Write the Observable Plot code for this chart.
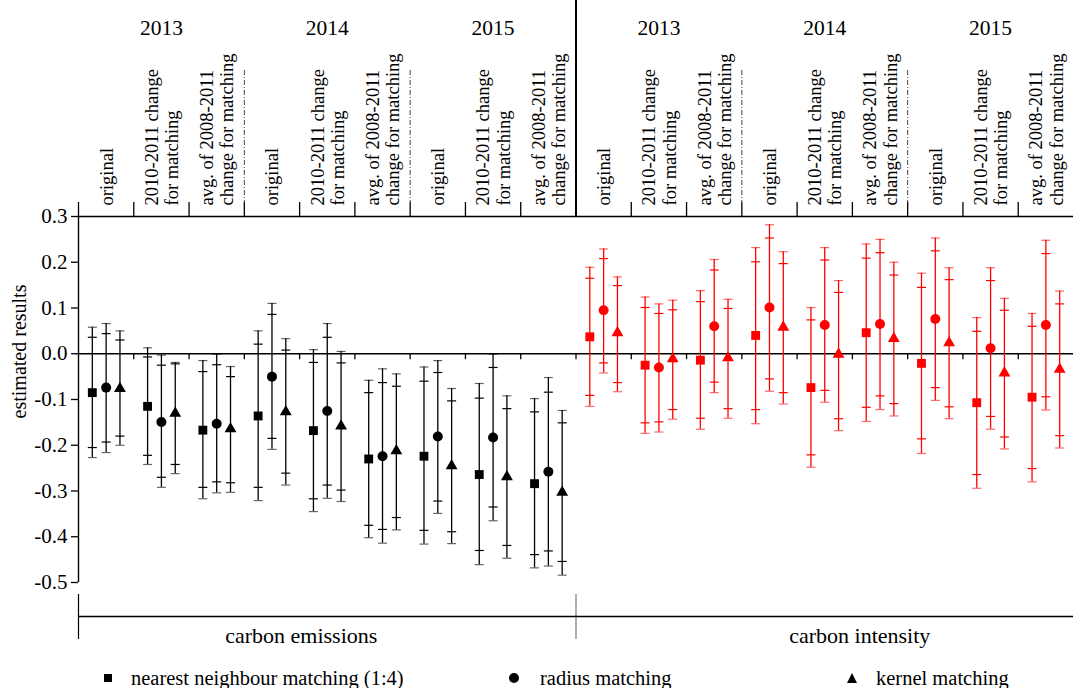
<!DOCTYPE html>
<html>
<head>
<meta charset="utf-8">
<script src="https://cdn.jsdelivr.net/npm/d3@7"></script>
<script src="https://cdn.jsdelivr.net/npm/@observablehq/plot@0.6"></script>
<style>
  html, body { margin: 0; padding: 0; background: #fff; }
  #wrap { position: relative; width: 1073px; height: 688px; overflow: hidden;
          font-family: "Liberation Serif", "Times New Roman", serif; color: #000; }
  #legend { position: absolute; left: 0; top: 665px; width: 1073px; height: 26px; }
  .lt { position: absolute; top: 0; line-height: 26px; font-size: 20.5px; white-space: nowrap;
        font-family: "Liberation Serif", "Times New Roman", serif; }
  .mk { position: absolute; background: #000; }
  .sq { width: 8px; height: 8px; top: 9px; }
  .ci { width: 10px; height: 10px; top: 8px; border-radius: 50%; }
  .tr { width: 0; height: 0; top: 8px; background: none;
        border-left: 5.5px solid transparent; border-right: 5.5px solid transparent; border-bottom: 10px solid #000; }
</style>
</head>
<body>
<div id="wrap">
  <div id="chart"></div>
  <div id="legend"></div>
</div>
<script>
// ---------------- data ----------------
const outcomes = ["carbon emissions", "carbon intensity"];
const years = ["2013", "2014", "2015"];
const specs = ["original", "2010-2011 change\nfor matching", "avg. of 2008-2011\nchange for matching"];
const methods = ["nearest neighbour matching (1:4)", "radius matching", "kernel matching"];
const yTicks = [-0.5, -0.4, -0.3, -0.2, -0.1, 0, 0.1, 0.2, 0.3];

// nearest neighbour matching (1:4)  — 18 groups: emissions 2013..2015 x 3 specs, then intensity
const nnEst  = [-0.085, -0.115, -0.167, -0.136, -0.168, -0.230, -0.224, -0.264, -0.284, 0.037, -0.025, -0.014, 0.040, -0.074, 0.046, -0.021, -0.107, -0.095];
const nnHi90 = [0.036, -0.007, -0.039, 0.021, -0.019, -0.085, -0.060, -0.097, -0.127, 0.165, 0.101, 0.114, 0.201, 0.074, 0.209, 0.145, 0.049, 0.060];
const nnLo90 = [-0.205, -0.222, -0.292, -0.292, -0.317, -0.375, -0.386, -0.430, -0.439, -0.091, -0.151, -0.141, -0.122, -0.221, -0.117, -0.186, -0.264, -0.251];
const nnHi95 = [0.058, 0.013, -0.015, 0.050, 0.009, -0.058, -0.029, -0.065, -0.098, 0.189, 0.124, 0.138, 0.232, 0.101, 0.240, 0.176, 0.079, 0.088];
const nnLo95 = [-0.227, -0.242, -0.317, -0.321, -0.345, -0.402, -0.416, -0.461, -0.468, -0.115, -0.174, -0.165, -0.153, -0.248, -0.148, -0.218, -0.294, -0.280];

// radius matching
const raEst  = [-0.074, -0.149, -0.153, -0.050, -0.125, -0.224, -0.181, -0.183, -0.258, 0.095, -0.030, 0.060, 0.101, 0.063, 0.065, 0.076, 0.012, 0.063];
const raHi90 = [0.044, -0.025, -0.024, 0.086, 0.036, -0.063, -0.041, -0.030, -0.084, 0.208, 0.088, 0.183, 0.253, 0.205, 0.221, 0.225, 0.160, 0.219];
const raLo90 = [-0.193, -0.270, -0.280, -0.185, -0.287, -0.384, -0.322, -0.335, -0.431, -0.020, -0.149, -0.062, -0.055, -0.080, -0.092, -0.074, -0.137, -0.094];
const raHi95 = [0.066, -0.003, -0.001, 0.110, 0.066, -0.033, -0.015, -0.001, -0.052, 0.229, 0.109, 0.206, 0.282, 0.232, 0.250, 0.253, 0.188, 0.248];
const raLo95 = [-0.216, -0.292, -0.304, -0.209, -0.316, -0.414, -0.349, -0.365, -0.464, -0.042, -0.171, -0.085, -0.082, -0.106, -0.122, -0.102, -0.165, -0.123];

// kernel matching
const keEst  = [-0.076, -0.130, -0.164, -0.127, -0.158, -0.212, -0.245, -0.269, -0.303, 0.046, -0.011, -0.009, 0.058, -0.001, 0.033, 0.024, -0.042, -0.034];
const keHi90 = [0.030, -0.022, -0.050, 0.008, -0.020, -0.071, -0.103, -0.120, -0.151, 0.149, 0.096, 0.099, 0.197, 0.134, 0.172, 0.162, 0.095, 0.109];
const keLo90 = [-0.180, -0.242, -0.282, -0.261, -0.298, -0.358, -0.389, -0.419, -0.454, -0.063, -0.122, -0.120, -0.085, -0.142, -0.109, -0.116, -0.182, -0.179];
const keHi95 = [0.050, -0.019, -0.028, 0.033, 0.005, -0.044, -0.076, -0.092, -0.124, 0.168, 0.117, 0.119, 0.223, 0.160, 0.200, 0.188, 0.121, 0.137];
const keLo95 = [-0.200, -0.262, -0.303, -0.287, -0.323, -0.385, -0.415, -0.447, -0.484, -0.083, -0.143, -0.141, -0.110, -0.168, -0.136, -0.142, -0.208, -0.206];

// ---------------- build tables ----------------
const EST = [nnEst, raEst, keEst], HI90 = [nnHi90, raHi90, keHi90], LO90 = [nnLo90, raLo90, keLo90],
      HI95 = [nnHi95, raHi95, keHi95], LO95 = [nnLo95, raLo95, keLo95];
const nG = outcomes.length * years.length * specs.length; // 18
const rows = [];
for (let g = 0; g < nG; g++) {
  for (let m = 0; m < methods.length; m++) {
    rows.push({g, m, outcome: outcomes[Math.floor(g / 9)], method: methods[m],
      est: EST[m][g], hi90: HI90[m][g], lo90: LO90[m][g], hi95: HI95[m][g], lo95: LO95[m][g]});
  }
}
const groups = d3.range(nG).map(g => ({g, spec: specs[g % 3], year: years[Math.floor(g / 3) % 3]}));
const yearGroups = groups.filter(d => d.g % 3 === 1);
const xPos = d => d.g + (d.m + 1) / 4;
const xMid = d => d.g + 0.5;

// ---------------- layout ----------------
const W = 1073, H = 688, mt = 216, mb = 106, ml = 78, mr = 0;
const plotH = H - mt - mb;
const serif = "Liberation Serif, Times New Roman, serif";
const capSym = {draw(ctx) { ctx.moveTo(-4.5, 0); ctx.lineTo(4.5, 0); }};

const bounds = d3.range(0, nG);                // group boundaries
const topTicks = bounds.filter(b => b !== 9);
const zeroTicks = bounds.filter(b => b !== 0);
const yearSeps = bounds.filter(b => b % 3 === 0 && b % 9 !== 0);
const outcomeSep = [9];

const chart = Plot.plot({
  width: W, height: H,
  marginTop: mt, marginBottom: mb, marginLeft: ml, marginRight: mr,
  style: {fontFamily: serif, fontSize: "18px", color: "#000", background: "#fff", overflow: "visible"},
  x: {domain: [0, nG], axis: null},
  y: {domain: [-0.5, 0.3], label: null, axis: null},
  color: {domain: outcomes, range: ["#000000", "#ff0000"]},
  marks: [
    // frame lines
    Plot.ruleY([0.3], {stroke: "#000", strokeWidth: 1.4}),
    Plot.ruleY([0], {stroke: "#000", strokeWidth: 1.4}),
    Plot.ruleX([0], {x: d => d, stroke: "#000", strokeWidth: 1.4}),
    // header separators
    Plot.ruleX(topTicks, {x: d => d, insetTop: -14, insetBottom: plotH, stroke: "#000", strokeWidth: 1.3}),
    Plot.ruleX(outcomeSep, {x: d => d, insetTop: -mt, insetBottom: plotH, stroke: "#000", strokeWidth: 2}),
    Plot.ruleX(yearSeps, {x: d => d, insetTop: -(mt - 70), insetBottom: plotH + 14, stroke: "#333", strokeWidth: 0.9, strokeDasharray: "5,2,1,2"}),
    // zero-line ticks
    Plot.ruleX(zeroTicks, {x: d => d, y1: 0, y2: 0, insetBottom: -6, stroke: "#000", strokeWidth: 1.3}),
    // bottom bracket
    Plot.ruleX([0], {x: d => d, insetTop: plotH + 12, insetBottom: -57, stroke: "#000", strokeWidth: 1.2}),
    Plot.ruleX(outcomeSep, {x: d => d, insetTop: plotH + 12, insetBottom: -57, stroke: "#777", strokeWidth: 1.2}),
    Plot.ruleY([-0.5], {dy: 34, stroke: "#000", strokeWidth: 1.3}),
    // y axis
    Plot.axisY(yTicks, {tickSize: 7, tickPadding: 4, tickFormat: d => d.toFixed(1), fontSize: 21, label: null, stroke: "#000", strokeWidth: 1.3}),
    Plot.text(["estimated results"], {frameAnchor: "left", rotate: -90, textAnchor: "middle", lineAnchor: "middle", dx: -59, dy: -48, fontSize: 20}),
    // header labels
    Plot.text(yearGroups, {x: xMid, text: "year", frameAnchor: "top", lineAnchor: "middle", dy: -188, fontSize: 21.5}),
    Plot.text(groups, {x: xMid, text: "spec", frameAnchor: "top", rotate: -90, textAnchor: "start",
      lineAnchor: "middle", lineHeight: 1.1, dy: -11, fontSize: 18.5}),
    // error bars
    Plot.ruleX(rows, {x: xPos, y1: "lo95", y2: "hi95", stroke: "outcome", strokeWidth: 1.3}),
    Plot.dot(rows, {x: xPos, y: "lo95", symbol: capSym, fill: "none", stroke: "outcome", strokeWidth: 1.2, strokeOpacity: 0.6}),
    Plot.dot(rows, {x: xPos, y: "hi95", symbol: capSym, fill: "none", stroke: "outcome", strokeWidth: 1.2, strokeOpacity: 0.6}),
    Plot.dot(rows, {x: xPos, y: "lo90", symbol: capSym, fill: "none", stroke: "outcome", strokeWidth: 1.2}),
    Plot.dot(rows, {x: xPos, y: "hi90", symbol: capSym, fill: "none", stroke: "outcome", strokeWidth: 1.2}),
    // point estimates
    Plot.dot(rows, {filter: d => d.m === 0, x: xPos, y: "est", symbol: "square", r: 5, fill: "outcome"}),
    Plot.dot(rows, {filter: d => d.m === 1, x: xPos, y: "est", symbol: "circle", r: 5, fill: "outcome"}),
    Plot.dot(rows, {filter: d => d.m === 2, x: xPos, y: "est", symbol: "triangle", r: 4.4, fill: "outcome"}),
    // outcome labels
    Plot.text([outcomes[0]], {x: () => 4.5, frameAnchor: "bottom", lineAnchor: "middle", dy: 53, dx: -26, fontSize: 22}),
    Plot.text([outcomes[1]], {x: () => 13.5, frameAnchor: "bottom", lineAnchor: "middle", dy: 53, dx: 35, fontSize: 22})
  ]
});
document.getElementById("chart").appendChild(chart);

// legend (HTML, below/over the bottom margin)
const leg = document.getElementById("legend");
const legItems = [
  {cls: "sq", mx: 104, tx: 131},
  {cls: "ci", mx: 509, tx: 540},
  {cls: "tr", mx: 847, tx: 876}
];
methods.forEach((name, i) => {
  const it = legItems[i];
  const mk = document.createElement("div");
  mk.className = "mk " + it.cls;
  mk.style.left = it.mx + "px";
  leg.appendChild(mk);
  const t = document.createElement("div");
  t.className = "lt";
  t.style.left = it.tx + "px";
  t.textContent = name;
  leg.appendChild(t);
});
</script>
</body>
</html>
